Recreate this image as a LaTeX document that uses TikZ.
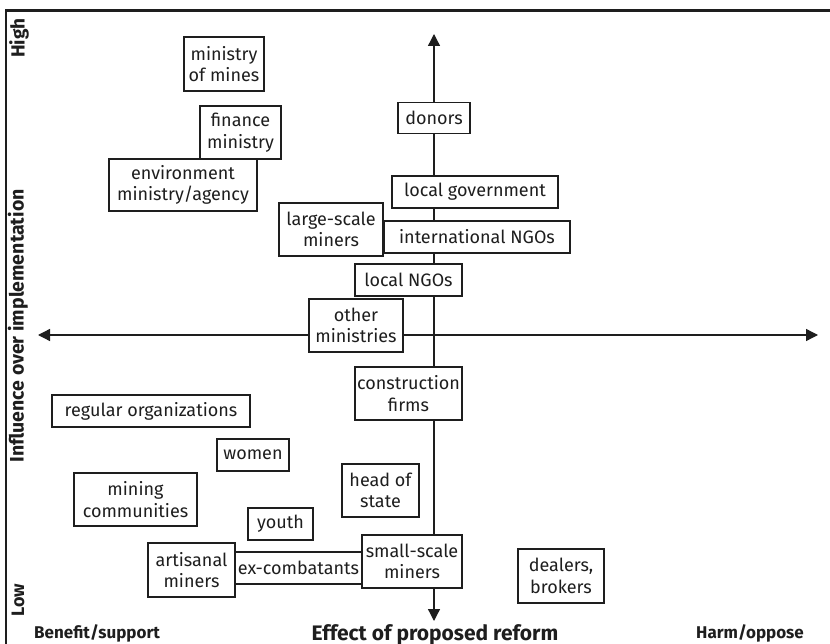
\documentclass[tikz,border=0pt]{standalone}
\usepackage{fontspec}
\setmainfont{Fira Sans}
\usetikzlibrary{arrows.meta}
\definecolor{ink}{HTML}{1E1E1E}
\begin{document}
\begin{tikzpicture}[x=1pt,y=-1pt,
  box/.style={draw=ink, line width=1.3pt, fill=white, inner sep=0pt, align=center,
    font=\fontsize{18}{21.5}\selectfont, text=ink},
  axisline/.style={draw=ink, line width=1.3pt, {Triangle[length=12pt,width=12pt]}-{Triangle[length=12pt,width=12pt]}},
  axlabel/.style={font=\fontsize{17}{20}\selectfont\bfseries, text=ink, inner sep=0pt},
  axtitle/.style={font=\fontsize{21}{24}\selectfont\bfseries, text=ink, inner sep=0pt},
  frameline/.style={draw=ink, line width=2.6pt}]
\useasboundingbox (0,0) rectangle (830,644);
% frame
\coordinate (fbl) at (6,644);
\coordinate (ftl) at (6,10.5);
\coordinate (ftr) at (830,10.5);
\draw[frameline] (fbl) -- (ftl) -- (ftr);
% axes
\coordinate (vtop) at (434,34);
\coordinate (vbot) at (434,621);
\coordinate (hleft) at (38,335);
\coordinate (hright) at (818,335);
\draw[axisline] (vbot) -- (vtop);
\draw[axisline] (hleft) -- (hright);
% boxes
\node[box, minimum width=80pt, minimum height=54pt] (mines) at (224,64) {ministry\\of mines};
\node[box, minimum width=81pt, minimum height=53pt] (finance) at (240.5,132.5) {finance\\ministry};
\node[box, minimum width=148pt, minimum height=52pt] (env) at (183,185) {environment\\ministry/agency};
\node[box, minimum width=72pt, minimum height=31pt] (donors) at (434,118) {donors};
\node[box, minimum width=166pt, minimum height=32pt] (localgov) at (475,192) {local government};
\node[box, minimum width=104pt, minimum height=53pt] (large) at (331,229.5) {large-scale\\miners};
\node[box, minimum width=186pt, minimum height=32pt] (intngo) at (477,237) {international NGOs};
\node[box, minimum width=107pt, minimum height=32pt] (localngo) at (408.5,280) {local NGOs};
\node[box, minimum width=94pt, minimum height=53pt] (otherm) at (356,325.5) {other\\ministries};
\node[box, minimum width=107pt, minimum height=53pt] (constr) at (408.5,393.5) {construction\\firms};
\node[box, minimum width=198pt, minimum height=32pt] (regular) at (151,411) {regular organizations};
\node[box, minimum width=72pt, minimum height=32pt] (women) at (253,455) {women};
\node[box, minimum width=123pt, minimum height=53pt] (mcomm) at (135.5,499.5) {mining\\communities};
\node[box, minimum width=77pt, minimum height=53pt] (hos) at (380.5,490.5) {head of\\state};
\node[box, minimum width=65pt, minimum height=32pt] (youth) at (280.5,524) {youth};
\node[box, minimum width=127pt, minimum height=32pt] (excomb) at (298.5,568) {ex-combatants};
\node[box, minimum width=87pt, minimum height=54pt] (artisan) at (191.5,570) {artisanal\\miners};
\node[box, minimum width=100pt, minimum height=53pt] (small) at (412,561.5) {small-scale\\miners};
\node[box, minimum width=86pt, minimum height=54pt] (dealers) at (561,576) {dealers,\\brokers};
% axis labels
\node[axtitle, anchor=base] (effect) at (435,640) {Effect of proposed reform};
\node[axlabel, anchor=base west] (benefit) at (34,638) {Benefit/support};
\node[axlabel, anchor=base east] (harm) at (804,638) {Harm/oppose};
\node[axlabel, rotate=90, font=\fontsize{19}{20}\selectfont\bfseries] (high) at (19,38) {High};
\node[axlabel, rotate=90, font=\fontsize{18}{20}\selectfont\bfseries] (low) at (18,600) {Low};
\node[axtitle, rotate=90, font=\fontsize{19.5}{24}\selectfont\bfseries] (influence) at (18,326) {Influence over implementation};
\end{tikzpicture}
\end{document}
